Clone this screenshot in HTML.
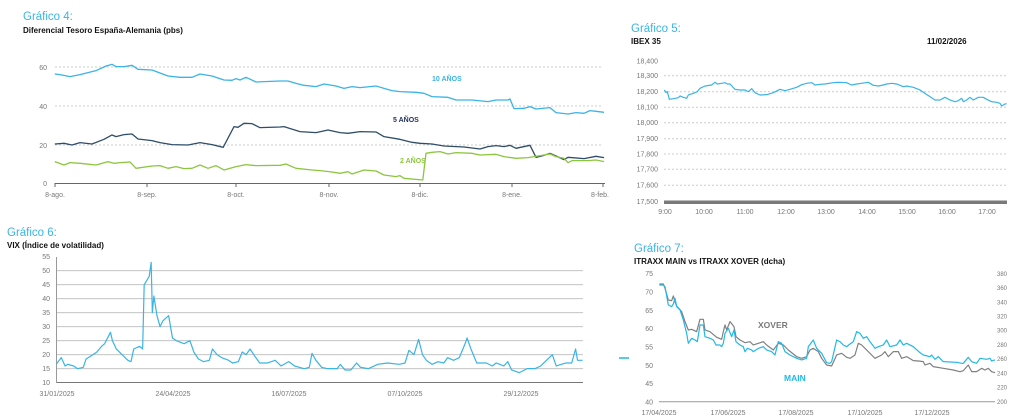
<!DOCTYPE html>
<html><head><meta charset="utf-8"><style>
html,body{margin:0;padding:0;background:#fff;width:1024px;height:418px;overflow:hidden}
svg{display:block;font-family:"Liberation Sans",sans-serif}
.t{fill:#3ab4e6;font-size:11.5px}
.s{fill:#111;font-size:8px;font-weight:bold}
.k{fill:#777;font-size:7px}
.ln{fill:none;vector-effect:non-scaling-stroke;stroke-linejoin:round}
</style></head><body>
<svg width="1024" height="418" viewBox="0 0 1024 418">
<!-- Chart 4 -->
<text x="23" y="20" class="t">Gráfico 4:</text>
<text x="23" y="33" class="s">Diferencial Tesoro España-Alemania (pbs)</text>
<g stroke="#ccc" stroke-dasharray="2,2" stroke-width="1">
<line x1="55" y1="67" x2="603" y2="67"/><line x1="55" y1="106" x2="603" y2="106"/><line x1="55" y1="145" x2="603" y2="145"/>
</g>
<line x1="55" y1="183.5" x2="605" y2="183.5" stroke="#666"/>
<g stroke="#666"><line x1="55" y1="183" x2="55" y2="187"/><line x1="147" y1="183" x2="147" y2="187"/><line x1="236" y1="183" x2="236" y2="187"/><line x1="329" y1="183" x2="329" y2="187"/><line x1="420" y1="183" x2="420" y2="187"/><line x1="512" y1="183" x2="512" y2="187"/><line x1="603" y1="183" x2="603" y2="187"/></g>
<g class="k" text-anchor="end"><text x="47" y="70">60</text><text x="47" y="109">40</text><text x="47" y="148">20</text><text x="47" y="186">0</text></g>
<g class="k" text-anchor="middle"><text x="55" y="197">8-ago.</text><text x="147" y="197">8-sep.</text><text x="236" y="197">8-oct.</text><text x="329" y="197">8-nov.</text><text x="420" y="197">8-dic.</text><text x="512" y="197">8-ene.</text><text x="600" y="197">8-feb.</text></g>
<g transform="scale(0.4,0.3333)">
<polyline class="ln" stroke="#3ab4e6" stroke-width="1.3" points="137,222 150,224 175,230 200,224 240,212 265,198 280,193 290,200 310,200 330,196 345,208 380,210 420,228 450,232 480,232 500,222 530,228 560,240 580,241 590,236 600,240 615,232 640,246 660,245 700,243 720,243 740,250 760,256 790,260 810,252 840,258 860,265 880,260 900,263 940,258 960,265 980,272 1000,275 1040,277 1060,280 1080,290 1120,292 1140,300 1180,300 1220,305 1240,300 1270,300 1275,297 1285,326 1310,325 1325,320 1340,327 1375,323 1390,338 1420,342 1440,338 1460,340 1475,332 1490,334 1510,337"/>
<polyline class="ln" stroke="#2d4d68" stroke-width="1.3" points="137,432 160,430 180,435 200,428 230,432 260,418 280,405 290,410 310,404 330,402 345,417 380,422 400,428 430,434 470,435 500,428 530,434 558,442 585,380 595,382 610,370 630,371 650,383 700,381 710,380 750,395 790,398 820,390 850,398 870,400 900,395 940,396 960,410 1000,418 1030,427 1050,430 1080,432 1110,438 1160,441 1200,447 1220,440 1240,437 1260,440 1275,436 1290,445 1325,436 1340,472 1360,466 1375,460 1390,468 1410,479 1420,472 1460,476 1490,469 1510,473"/>
<polyline class="ln" stroke="#8cc63f" stroke-width="1.3" points="137,485 160,495 175,488 200,490 240,495 270,485 285,490 300,488 325,486 340,505 380,498 400,497 420,505 440,500 460,506 480,505 500,495 520,505 540,497 560,510 590,500 615,494 640,497 700,496 715,492 740,505 780,510 800,512 830,516 850,520 870,515 880,522 910,510 940,513 960,525 990,530 1000,527 1010,535 1057,540 1065,460 1080,457 1100,455 1120,462 1140,458 1180,460 1200,465 1240,463 1260,470 1290,475 1320,473 1375,462 1390,470 1410,475 1420,488 1430,482 1470,482 1490,480 1510,485"/>
</g>
<text x="432" y="81" style="fill:#3ab4e6;font-size:7px;font-weight:bold">10 AÑOS</text>
<text x="393" y="122" style="fill:#1f2f5a;font-size:7px;font-weight:bold">5 AÑOS</text>
<text x="400" y="163" style="fill:#8cc63f;font-size:7px;font-weight:bold">2 AÑOS</text>

<!-- Chart 5 -->
<text x="631" y="32" class="t">Gráfico 5:</text>
<text x="631" y="44" class="s">IBEX 35</text>
<text x="927" y="44" class="s">11/02/2026</text>
<g stroke="#ccc" stroke-dasharray="2,2">
<line x1="664" y1="75.7" x2="1006" y2="75.7"/><line x1="664" y1="91.7" x2="1006" y2="91.7"/><line x1="664" y1="107.3" x2="1006" y2="107.3"/><line x1="664" y1="122.7" x2="1006" y2="122.7"/><line x1="664" y1="138.7" x2="1006" y2="138.7"/><line x1="664" y1="154" x2="1006" y2="154"/><line x1="664" y1="169.3" x2="1006" y2="169.3"/><line x1="664" y1="185.3" x2="1006" y2="185.3"/>
</g>
<rect x="664" y="200.5" width="343" height="3.5" fill="#7a7a7a"/>
<g class="k" text-anchor="end"><text x="658" y="63.5">18,400</text><text x="658" y="78">18,300</text><text x="658" y="94">18,200</text><text x="658" y="109.5">18,100</text><text x="658" y="125">18,000</text><text x="658" y="141">17,900</text><text x="658" y="156.5">17,800</text><text x="658" y="171.5">17,700</text><text x="658" y="187.5">17,600</text><text x="658" y="204">17,500</text></g>
<g class="k" text-anchor="middle"><text x="665" y="214">9:00</text><text x="704" y="214">10:00</text><text x="745" y="214">11:00</text><text x="786" y="214">12:00</text><text x="826" y="214">13:00</text><text x="867" y="214">14:00</text><text x="907" y="214">15:00</text><text x="947" y="214">16:00</text><text x="987" y="214">17:00</text></g>
<g transform="translate(620,0) scale(0.3333)">
<polyline class="ln" stroke="#3ab4e6" stroke-width="1.2" points="133,270 138,278 142,275 148,298 160,296 175,293 180,288 190,292 200,295 205,285 220,280 232,275 240,265 255,258 275,255 285,247 292,252 305,250 315,248 322,252 330,252 345,268 360,270 375,270 385,275 395,266 405,278 420,285 440,284 460,278 480,268 495,272 510,268 530,262 545,254 560,250 575,248 585,255 600,253 615,252 640,248 655,247 680,248 695,255 710,252 725,250 745,247 760,256 775,258 790,255 800,252 815,250 830,252 850,260 860,258 880,262 900,270 915,280 930,290 945,300 960,300 975,292 990,300 1005,305 1015,302 1025,295 1030,305 1040,300 1050,292 1060,300 1075,292 1090,292 1100,298 1115,305 1130,307 1140,310 1145,318 1155,312 1160,311"/>
</g>

<!-- Chart 6 -->
<text x="7" y="236" class="t">Gráfico 6:</text>
<text x="7" y="248" class="s">VIX (Índice de volatilidad)</text>
<g stroke="#bbb" stroke-width="0.8">
<line x1="56" y1="270.7" x2="583" y2="270.7"/><line x1="56" y1="284.7" x2="583" y2="284.7"/><line x1="56" y1="298.7" x2="583" y2="298.7"/><line x1="56" y1="312.7" x2="583" y2="312.7"/><line x1="56" y1="326.7" x2="583" y2="326.7"/><line x1="56" y1="340.7" x2="583" y2="340.7"/><line x1="56" y1="354.7" x2="583" y2="354.7"/><line x1="56" y1="368.7" x2="583" y2="368.7"/>
</g>
<line x1="56" y1="382.5" x2="583" y2="382.5" stroke="#777"/>
<line x1="56.5" y1="257" x2="56.5" y2="383" stroke="#999"/>
<g class="k" text-anchor="end"><text x="50" y="259">55</text><text x="50" y="273">50</text><text x="50" y="287">45</text><text x="50" y="301">40</text><text x="50" y="315">35</text><text x="50" y="329">30</text><text x="50" y="343">25</text><text x="50" y="357">20</text><text x="50" y="371">15</text><text x="50" y="385">10</text></g>
<g class="k" text-anchor="middle"><text x="57" y="396">31/01/2025</text><text x="173" y="396">24/04/2025</text><text x="289" y="396">16/07/2025</text><text x="405" y="396">07/10/2025</text><text x="521" y="396">29/12/2025</text></g>
<g transform="translate(0,225) scale(0.3876,0.3333)">
<polyline class="ln" stroke="#3ab4e6" stroke-width="1.2" points="145,418 158,398 168,423 175,418 190,423 200,431 215,427 222,402 240,389 250,381 262,364 270,356 285,322 290,347 300,372 315,389 330,406 338,410 345,372 360,364 368,372 372,179 385,154 390,112 393,263 397,213 405,272 413,305 420,288 435,272 445,339 455,347 475,356 490,347 500,381 512,402 525,410 540,406 548,372 560,389 572,398 590,406 600,414 615,410 625,381 635,389 645,372 660,398 670,414 690,414 710,406 725,423 745,410 760,423 785,431 798,427 805,385 815,406 830,427 845,431 870,431 878,418 890,435 905,435 920,414 930,427 950,431 975,418 1000,414 1030,418 1045,414 1055,376 1068,389 1080,343 1090,389 1100,406 1115,418 1130,410 1145,414 1155,398 1170,406 1185,398 1200,356 1205,339 1215,372 1230,414 1255,414 1270,423 1280,414 1300,423 1310,410 1320,435 1340,443 1360,431 1380,431 1395,423 1410,406 1425,389 1435,423 1460,414 1475,414 1485,372 1490,406 1503,406"/>
</g>

<!-- Chart 7 -->
<text x="634" y="252" class="t">Gráfico 7:</text>
<text x="634" y="264" class="s">ITRAXX MAIN vs ITRAXX XOVER (dcha)</text>
<line x1="619" y1="358" x2="629" y2="358" stroke="#22b8e6" stroke-width="1.5"/>
<line x1="659" y1="401.7" x2="995" y2="401.7" stroke="#999"/>
<g class="k" text-anchor="end"><text x="653" y="276">75</text><text x="653" y="294.5">70</text><text x="653" y="313">65</text><text x="653" y="331">60</text><text x="653" y="349.5">55</text><text x="653" y="368">50</text><text x="653" y="386">45</text><text x="653" y="404.5">40</text></g>
<g class="k" style="font-size:6px" text-anchor="start"><text x="997" y="276">380</text><text x="997" y="290">360</text><text x="997" y="304.5">340</text><text x="997" y="318.5">320</text><text x="997" y="332.5">300</text><text x="997" y="347">280</text><text x="997" y="361">260</text><text x="997" y="375.5">240</text><text x="997" y="389.5">220</text><text x="997" y="404">200</text></g>
<g class="k" text-anchor="middle"><text x="659" y="415">17/04/2025</text><text x="728" y="415">17/06/2025</text><text x="796" y="415">17/08/2025</text><text x="865" y="415">17/10/2025</text><text x="932" y="415">17/12/2025</text></g>
<g transform="translate(610,230) scale(0.3333)">
<polyline class="ln" stroke="#808080" stroke-width="1.2" points="148,162 160,162 165,175 175,210 185,212 190,198 195,215 200,228 215,245 225,275 235,300 245,298 260,305 270,268 280,268 285,300 300,305 320,322 335,328 340,305 345,285 350,300 360,275 372,290 378,320 390,330 405,338 420,335 430,345 445,340 460,335 470,345 490,360 505,340 520,345 535,360 560,380 575,385 590,380 600,360 610,355 625,365 635,385 650,405 665,408 680,375 695,370 710,382 720,385 735,375 745,340 755,345 770,360 785,375 795,385 815,375 825,365 835,380 850,365 865,365 875,385 890,380 910,392 925,393 940,395 945,405 960,400 970,410 1000,415 1030,420 1050,425 1060,422 1075,405 1085,425 1100,425 1115,415 1125,420 1135,415 1145,425 1155,428"/>
<polyline class="ln" stroke="#22b8e6" stroke-width="1.2" points="148,165 160,165 165,170 175,225 185,230 190,222 195,205 200,230 210,240 220,270 230,310 235,340 245,325 255,330 262,335 270,285 280,285 285,320 300,325 310,330 318,345 330,345 335,350 340,340 345,310 355,295 365,320 372,300 378,335 390,345 400,350 405,365 412,355 425,360 430,365 445,355 460,350 470,360 485,365 495,375 505,335 515,340 525,365 540,375 560,385 575,390 590,385 595,350 610,330 620,355 635,370 650,398 660,400 665,395 680,330 690,335 700,345 710,350 720,342 730,335 740,305 750,310 760,325 770,320 780,335 795,355 805,350 820,345 830,330 840,350 860,345 870,330 880,345 890,340 910,350 930,368 940,375 960,380 965,375 975,388 985,380 1000,395 1040,397 1055,400 1060,400 1075,382 1085,395 1100,400 1110,385 1130,388 1140,385 1145,393 1155,390"/>
</g>
<text x="758" y="328" style="fill:#7a7a7a;font-size:8.5px;font-weight:bold">XOVER</text>
<text x="784" y="381" style="fill:#22b8e6;font-size:8.5px;font-weight:bold">MAIN</text>
</svg>
</body></html>
